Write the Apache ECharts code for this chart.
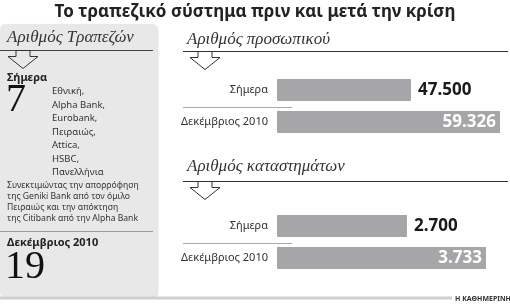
<!DOCTYPE html>
<html>
<head>
<meta charset="utf-8">
<script src="https://cdn.jsdelivr.net/npm/echarts@6/dist/echarts.min.js"></script>
<style>
  html, body { margin: 0; padding: 0; background: #fff; }
  #chart { width: 510px; height: 306px; }
</style>
</head>
<body>
<div id="chart"></div>
<script>
const categories = ['Σήμερα', 'Δεκέμβριος 2010'];
const staffValues = [47500, 59326];
const branchValues = [2700, 3733];
const bankCounts = [7, 19];
const banksToday = ['Εθνική,', 'Alpha Bank,', 'Eurobank,', 'Πειραιώς,', 'Attica,', 'HSBC,', 'Πανελλήνια'];
const bankNote = [
    'Συνεκτιμώντας την απορρόφηση',
    'της Geniki Bank από τον όμιλο',
    'Πειραιώς και την απόκτηση',
    'της Citibank από την Alpha Bank'
];

const sans = '"Noto Sans", sans-serif';
const serif = '"Liberation Serif", serif';
const barColor = '#a6a6a8';

// 47500 -> 47.500
function fmt(v) {
    return String(v).replace(/\B(?=(\d{3})+(?!\d))/g, '.');
}

function barData(values) {
    return values.map((v, i) => ({
        value: v,
        label: i === 0
            ? { position: 'right', distance: 7, color: '#1a1a1a' }
            : { position: 'insideRight', distance: 4, color: '#fff' }
    }));
}

// hollow down arrow hanging from a rule
function arrow(x, y) {
    return {
        type: 'polygon',
        shape: {
            points: [[x + 8, y], [x + 8, y + 6], [x, y + 6], [x + 15, y + 18],
                     [x + 30, y + 6], [x + 22, y + 6], [x + 22, y]]
        },
        style: { fill: null, stroke: '#333', lineWidth: 1 },
        z: 10
    };
}

function rule(x1, x2, y, color, w) {
    return {
        type: 'line',
        shape: { x1: x1, y1: y, x2: x2, y2: y },
        style: { stroke: color, lineWidth: w || 1 }
    };
}

function txt(x, y, text, font, color, extra) {
    return {
        type: 'text',
        x: x, y: y,
        style: Object.assign({ text: text, font: font, fill: color, textVerticalAlign: 'middle' }, extra || {})
    };
}

function block(x, y, lines, font, lh) {
    return {
        type: 'text', x: x, y: y,
        style: { text: lines.join('\n'), font: font, fill: '#333', lineHeight: lh }
    };
}

const chart = echarts.init(document.getElementById('chart'));

const graphics = [
    // left panel
    {
        type: 'rect',
        shape: { x: 0, y: 24, width: 157, height: 273, r: 5 },
        style: { fill: '#e8e8e8', shadowBlur: 2, shadowColor: 'rgba(0,0,0,0.15)', shadowOffsetX: 1, shadowOffsetY: 1 },
        z: -1
    },
    rule(0, 452, 298, '#d0d0d0', 3),
    txt(455, 299, 'Η ΚΑΘΗΜΕΡΙΝΗ', 'bold 7px ' + sans, '#333'),

    txt(255, 12, 'Το τραπεζικό σύστημα πριν και μετά την κρίση', 'bold 17px ' + sans, '#222', { textAlign: 'center' }),

    txt(7, 38, 'Αριθμός Τραπεζών', 'italic 17px ' + serif, '#333'),
    rule(0, 153, 50.5, '#444'),
    arrow(8, 50.5),
    txt(7, 78, 'Σήμερα', 'bold 11px ' + sans, '#222'),
    txt(6, 100, String(bankCounts[0]), '40px ' + serif, '#111'),
    block(52, 85, banksToday, '9.5px ' + sans, 13.5),
    block(7, 180, bankNote, '8.6px ' + sans, 11),
    rule(0, 153, 231.5, '#999'),
    txt(7, 243, 'Δεκέμβριος 2010', 'bold 11px ' + sans, '#222'),
    txt(5, 267, String(bankCounts[1]), '40px ' + serif, '#111'),

    txt(187, 40, 'Αριθμός προσωπικού', 'italic 17px ' + serif, '#333'),
    rule(183, 508, 51.5, '#333'),
    arrow(190, 51.5),
    rule(183, 292, 107.5, '#aaa'),

    txt(187, 167, 'Αριθμός καταστημάτων', 'italic 17px ' + serif, '#333'),
    rule(183, 508, 181.5, '#333'),
    arrow(190, 181.5),
    rule(183, 292, 243.5, '#aaa')
];

const option = {
    animation: false,
    grid: [
        { left: 277, top: 74, width: 230, height: 64 },
        { left: 277, top: 210, width: 230, height: 64 }
    ],
    xAxis: [
        { type: 'value', gridIndex: 0, min: 29700, max: 60256, show: false },
        { type: 'value', gridIndex: 1, min: 1000, max: 4008, show: false }
    ],
    yAxis: [0, 1].map(i => ({
        type: 'category',
        gridIndex: i,
        data: categories,
        inverse: true,
        axisLine: { show: false },
        axisTick: { show: false },
        axisLabel: { color: '#333', fontSize: 11, fontFamily: sans, margin: 9 }
    })),
    series: [
        { data: barData(staffValues), xAxisIndex: 0, yAxisIndex: 0 },
        { data: barData(branchValues), xAxisIndex: 1, yAxisIndex: 1 }
    ].map(s => Object.assign({
        type: 'bar',
        barWidth: 22,
        itemStyle: { color: barColor },
        label: {
            show: true,
            fontFamily: sans,
            fontWeight: 'bold',
            fontSize: 17,
            formatter: p => fmt(p.value)
        }
    }, s)),
    graphic: graphics
};

chart.setOption(option);
</script>
</body>
</html>
